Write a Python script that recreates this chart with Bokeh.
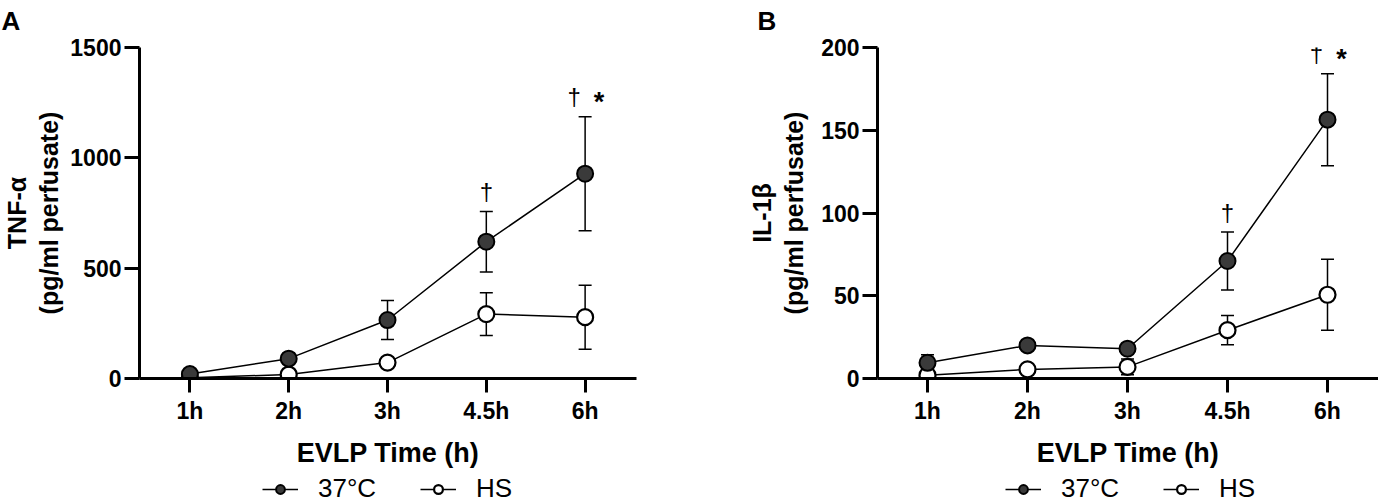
from bokeh.plotting import figure
from bokeh.models import (ColumnDataSource, Range1d, FixedTicker, Whisker, TeeHead,
                          Legend, LegendItem, Label)
from bokeh.layouts import row, column
from bokeh.core.properties import value
from bokeh.embed import file_html
from bokeh.resources import INLINE

# ---------------- data ----------------
time_labels = ["1h", "2h", "3h", "4.5h", "6h"]

tnf_37 = [20, 90, 265, 620, 928]
tnf_37_err = [10, 12, 88, 137, 258]
tnf_hs = [3, 18, 72, 292, 278]
tnf_hs_err = [3, 6, 10, 97, 145]

il_37 = [9.5, 20, 18, 71, 156.4]
il_37_err = [4.8, 1.5, 2, 17.5, 27.8]
il_hs = [2, 5.5, 7, 29.2, 50.6]
il_hs_err = [1.5, 1.5, 4.8, 8.8, 21.5]

dagger = ["", "", "", "†", "†"]
star = ["", "", "", "", "*"]

tnf_ticks = [0, 500, 1000, 1500]
il_ticks = [0, 50, 100, 150, 200]

series_names = ["37°C", "HS"]
panel_letters = ["A", "B"]

FONT = "Liberation Sans"
DARK = "#3a3a3a"
STRIP_H = 32
MAIN_H = 440
LEG_H = 30


def make_panel(ylabel, yticks, m37, e37, mhs, ehs,
               width, border_left, border_right, frame_top, frame_bottom,
               x_start, x_end, ylabel_standoff):
    xs = list(range(len(time_labels)))
    p = figure(width=width, height=MAIN_H, output_backend="svg", toolbar_location=None,
               x_range=Range1d(x_start, x_end), y_range=Range1d(yticks[0], yticks[-1]),
               min_border_left=border_left, min_border_right=border_right,
               min_border_top=frame_top - STRIP_H,
               min_border_bottom=MAIN_H - (frame_bottom - STRIP_H))
    p.outline_line_color = None
    p.grid.visible = False
    p.background_fill_color = "white"
    p.border_fill_color = "white"

    for ax in (p.xaxis[0], p.yaxis[0]):
        ax.axis_line_width = 3
        ax.axis_line_color = "black"
        ax.major_tick_line_width = 3
        ax.major_tick_line_color = "black"
        ax.major_tick_in = 0
        ax.minor_tick_line_color = None
        ax.major_label_text_font = FONT
        ax.major_label_text_font_style = "bold"
        ax.major_label_text_font_size = "23px"
        ax.major_label_text_color = "black"
        ax.axis_label_text_font = FONT
        ax.axis_label_text_font_style = "bold"
        ax.axis_label_text_color = "black"

    p.xaxis.ticker = FixedTicker(ticks=xs)
    p.xaxis.major_label_overrides = {i: lab for i, lab in enumerate(time_labels)}
    p.xaxis.major_tick_out = 14
    p.xaxis.major_label_standoff = 5
    p.xaxis.axis_label = "EVLP Time (h)"
    p.xaxis.axis_label_text_font_size = "27px"
    p.xaxis.axis_label_standoff = 11

    p.yaxis.ticker = FixedTicker(ticks=yticks)
    p.yaxis.major_tick_out = 15
    p.yaxis.major_label_standoff = 3
    p.yaxis.axis_label = ylabel
    p.yaxis.axis_label_text_font_size = "25px"
    p.yaxis.axis_label_text_line_height = 1.15
    p.yaxis.axis_label_standoff = ylabel_standoff

    # error bars
    def whisk(m, e):
        src = ColumnDataSource(dict(base=xs,
                                    upper=[a + b for a, b in zip(m, e)],
                                    lower=[a - b for a, b in zip(m, e)]))
        w = Whisker(base="base", upper="upper", lower="lower", source=src,
                    dimension="height", line_width=1.5, line_color="black",
                    upper_head=TeeHead(size=13, line_width=1.5, line_color="black"),
                    lower_head=TeeHead(size=13, line_width=1.5, line_color="black"))
        p.add_layout(w)

    whisk(mhs, ehs)
    whisk(m37, e37)

    p.line(xs, mhs, line_color="black", line_width=1.5)
    p.scatter(xs, mhs, size=16, fill_color="white", line_color="black", line_width=2.2)
    p.line(xs, m37, line_color="black", line_width=1.5)
    p.scatter(xs, m37, size=16, fill_color=DARK, line_color="black", line_width=2)

    # significance marks above the 37°C upper error bar
    top = [a + b for a, b in zip(m37, e37)]
    dag_off = [-11 if s else 0 for s in star]
    sig = ColumnDataSource(dict(x=xs, y=top, dag=dagger, star=star, doff=dag_off))
    p.text(x="x", y="y", text="dag", source=sig, x_offset="doff", y_offset=-20,
           text_align="center", text_baseline="middle", text_color="black",
           text_font=value(FONT), text_font_size="24px")
    p.text(x="x", y="y", text="star", source=sig, x_offset=14, y_offset=-15,
           text_align="center", text_baseline="middle", text_color="black",
           text_font=value(FONT), text_font_style="bold", text_font_size="27px")
    return p


def make_strip(width, height):
    s = figure(width=width, height=height, output_backend="svg", toolbar_location=None,
               min_border=0, x_axis_location=None, y_axis_location=None,
               x_range=Range1d(0, 1), y_range=Range1d(0, 1))
    s.outline_line_color = None
    s.grid.visible = False
    s.background_fill_color = "white"
    s.border_fill_color = "white"
    return s


def make_letter(width, letter, x):
    s = make_strip(width, STRIP_H)
    s.add_layout(Label(x=x, y=STRIP_H - 5, x_units="screen", y_units="screen",
                       text=letter, text_align="left", text_baseline="top",
                       text_font=FONT, text_font_style="bold", text_font_size="26px",
                       text_color="black"))
    return s


def make_legend(width, legend_x, m37, mhs):
    # legend strip: same series, view window placed away from the data so only the legend shows
    xs = list(range(len(time_labels)))
    lf = make_strip(width, LEG_H)
    lf.x_range = Range1d(len(xs) + 5, len(xs) + 6)
    l37 = lf.line(xs, m37, line_color="black", line_width=1.5)
    s37 = lf.scatter(xs, m37, size=14, fill_color=DARK, line_color="black", line_width=2)
    lhs = lf.line(xs, mhs, line_color="black", line_width=1.5)
    shs = lf.scatter(xs, mhs, size=14, fill_color="white", line_color="black", line_width=2.2)
    legend = Legend(items=[LegendItem(label=series_names[0], renderers=[l37, s37]),
                           LegendItem(label=series_names[1], renderers=[lhs, shs])],
                    orientation="horizontal", location=(legend_x, -2),
                    label_text_font=FONT, label_text_font_size="26px",
                    label_text_color="black",
                    glyph_width=36, glyph_height=22, label_standoff=20, spacing=44,
                    padding=0, margin=0, border_line_color=None,
                    background_fill_alpha=0)
    lf.add_layout(legend)
    return lf


WA, WB = 708, 670

pA = make_panel("TNF-α\n(pg/ml perfusate)", tnf_ticks,
                tnf_37, tnf_37_err, tnf_hs, tnf_hs_err,
                width=WA, border_left=133, border_right=72, frame_top=44, frame_bottom=378,
                x_start=-0.51, x_end=4.52, ylabel_standoff=4)
pB = make_panel("IL-1β\n(pg/ml perfusate)", il_ticks,
                il_37, il_37_err, il_hs, il_hs_err,
                width=WB, border_left=169, border_right=0, frame_top=47, frame_bottom=379,
                x_start=-0.5, x_end=4.51, ylabel_standoff=10)

letA = make_letter(WA, panel_letters[0], 1)
letB = make_letter(WB, panel_letters[1], 49)
legA = make_legend(WA, 262, tnf_37, tnf_hs)
legB = make_legend(WB, 297, il_37, il_hs)

layout = column(row(letA, letB), row(pA, pB), row(legA, legB))
open("out.html", "w").write(file_html(layout, INLINE))
